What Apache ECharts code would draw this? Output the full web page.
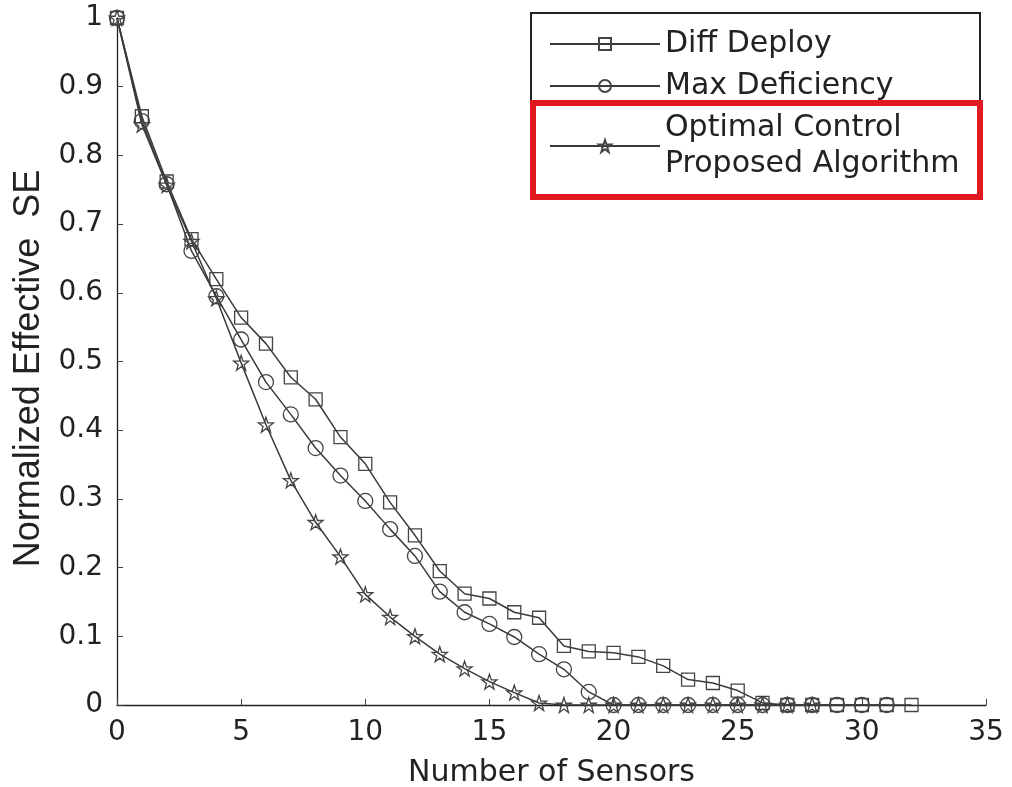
<!DOCTYPE html>
<html><head><meta charset="utf-8">
<script src="https://cdn.jsdelivr.net/npm/echarts@6/dist/echarts.min.js"></script>
<style>html,body{margin:0;padding:0;background:#fff}#c{width:1012px;height:787px}</style>
</head><body><div id="c"></div>
<script>
const xTicks = [0,5,10,15,20,25,30,35];
const seriesNames = ['Diff Deploy','Max Deficiency','Optimal Control\nProposed Algorithm'];
const diffDeployX = [0,1,2,3,4,5,6,7,8,9,10,11,12,13,14,15,16,17,18,19,20,21,22,23,24,25,26,27,28,29,30,31,32];
const diffDeploy = [1,0.857,0.762,0.678,0.620,0.564,0.526,0.477,0.445,0.390,0.351,0.295,0.247,0.195,0.162,0.155,0.135,0.127,0.086,0.078,0.076,0.070,0.057,0.037,0.032,0.021,0.003,0,0,0,0,0,0];
const maxDefX = [0,1,2,3,4,5,6,7,8,9,10,11,12,13,14,15,16,17,18,19,20,21,22,23,24,25,26,27,28,29,30,31];
const maxDef = [1,0.850,0.758,0.661,0.595,0.532,0.470,0.423,0.374,0.334,0.297,0.256,0.217,0.165,0.135,0.118,0.099,0.074,0.052,0.019,0,0,0,0,0,0,0,0,0,0,0,0];
const optX = [0,1,2,3,4,5,6,7,8,9,10,11,12,13,14,15,16,17,18,19,20,21,22,23,24,25,26,27,28];
const opt = [1,0.845,0.757,0.675,0.592,0.498,0.408,0.327,0.266,0.216,0.161,0.128,0.100,0.074,0.053,0.034,0.018,0.003,0,0,0,0,0,0,0,0,0,0,0];

const pair = (xs, ys) => xs.map((x, i) => [x, ys[i]]);
const star = 'path://M50,0 L61.8,35.1 L98.1,35.1 L68.8,56.7 L79.4,91.9 L50,70.3 L20.6,91.9 L31.2,56.7 L1.9,35.1 L38.2,35.1 Z';
const lineColor = '#3a3a3a';
const mk = (name, data, symbol, size) => ({
  name, type: 'line', data, symbol, symbolSize: size, showAllSymbol: true,
  lineStyle: { color: lineColor, width: 1.5 },
  itemStyle: { color: 'rgba(255,255,255,0)', borderColor: '#444', borderWidth: 1.3 },
  emphasis: { disabled: true }, animation: false, z: 3
});
const txt = '#222';
const hFont = 'DejaVu Sans';

const chart = echarts.init(document.getElementById('c'));
chart.setOption({
  backgroundColor: '#fff',
  animation: false,
  grid: { left: 117, right: 26, top: 18, bottom: 82, outerBoundsMode: 'none', containLabel: false },
  xAxis: {
    type: 'value', min: 0, max: 35, interval: 5,
    name: 'Number of Sensors', nameLocation: 'middle', nameGap: 53,
    nameTextStyle: { fontFamily: hFont, fontSize: 30, color: txt },
    axisLine: { lineStyle: { color: '#222', width: 1.3 } },
    axisTick: { inside: true, length: 6, lineStyle: { color: '#444' } },
    axisLabel: { fontFamily: hFont, fontSize: 28, color: txt, margin: 14 },
    splitLine: { show: false }
  },
  yAxis: {
    type: 'value', min: 0, max: 1, interval: 0.1,
    name: 'Normalized Effective  SE', nameLocation: 'middle', nameGap: 70,
    nameTextStyle: { fontFamily: 'Liberation Sans', fontSize: 36, color: txt, padding: [0, 14, 0, 0] },
    axisLine: { show: true, lineStyle: { color: '#222', width: 1.3 } },
    axisTick: { show: true, inside: true, length: 6, lineStyle: { color: '#444' } },
    axisLabel: { fontFamily: hFont, fontSize: 28, color: txt, margin: 14 },
    splitLine: { show: false }
  },
  legend: {
    left: 549, top: 26, orient: 'vertical', itemGap: 6, padding: 0,
    itemWidth: 110, itemHeight: 15,
    textStyle: { fontFamily: hFont, fontSize: 30, color: txt, lineHeight: 36 },
    data: seriesNames,
    selectedMode: false
  },
  graphic: [
    { type: 'rect', shape: { x: 531, y: 13, width: 449, height: 184 }, style: { fill: 'none', stroke: '#222', lineWidth: 2 }, z: 10 },
    { type: 'rect', shape: { x: 533, y: 103, width: 447, height: 94 }, style: { fill: 'none', stroke: '#e01820', lineWidth: 6 }, z: 11 }
  ],
  series: [
    mk(seriesNames[0], pair(diffDeployX, diffDeploy), 'rect', 13),
    mk(seriesNames[1], pair(maxDefX, maxDef), 'circle', 15),
    mk(seriesNames[2], pair(optX, opt), star, 15)
  ]
});
</script></body></html>
